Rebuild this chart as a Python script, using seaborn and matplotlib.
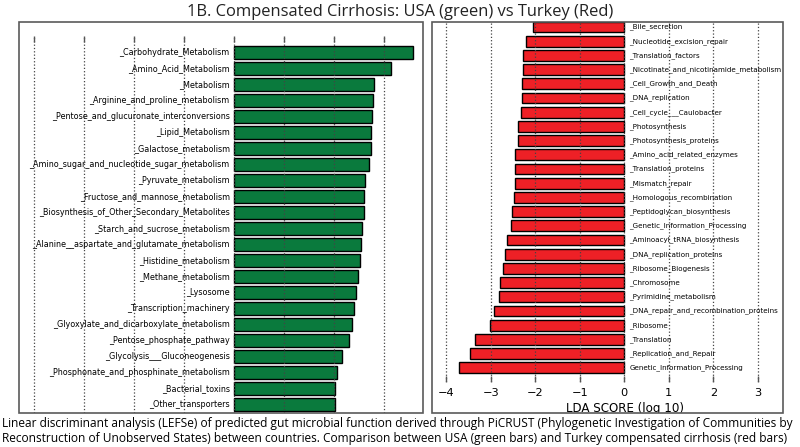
import matplotlib
matplotlib.use("Agg")
import matplotlib.pyplot as plt
from matplotlib.patches import Rectangle
import seaborn as sns
import pandas as pd

# ---- data ----
usa_functions = [
    "_Carbohydrate_Metabolism", "_Amino_Acid_Metabolism", "_Metabolism",
    "_Arginine_and_proline_metabolism", "_Pentose_and_glucuronate_interconversions",
    "_Lipid_Metabolism", "_Galactose_metabolism",
    "_Amino_sugar_and_nucleotide_sugar_metabolism", "_Pyruvate_metabolism",
    "_Fructose_and_mannose_metabolism", "_Biosynthesis_of_Other_Secondary_Metabolites",
    "_Starch_and_sucrose_metabolism", "_Alanine__aspartate_and_glutamate_metabolism",
    "_Histidine_metabolism", "_Methane_metabolism", "_Lysosome",
    "_Transcription_machinery", "_Glyoxylate_and_dicarboxylate_metabolism",
    "_Pentose_phosphate_pathway", "_Glycolysis___Gluconeogenesis",
    "_Phosphonate_and_phosphinate_metabolism", "_Bacterial_toxins", "_Other_transporters",
]
usa_lda = [3.57, 3.13, 2.79, 2.77, 2.76, 2.73, 2.73, 2.69, 2.61, 2.59, 2.59, 2.55,
           2.54, 2.51, 2.47, 2.43, 2.40, 2.35, 2.30, 2.15, 2.05, 2.01, 2.01]

turkey_functions = [
    "_Bile_secretion", "_Nucleotide_excision_repair", "_Translation_factors",
    "_Nicotinate_and_nicotinamide_metabolism", "_Cell_Growth_and_Death",
    "_DNA_replication", "_Cell_cycle___Caulobacter", "_Photosynthesis",
    "_Photosynthesis_proteins", "_Amino_acid_related_enzymes", "_Translation_proteins",
    "_Mismatch_repair", "_Homologous_recombination", "_Peptidoglycan_biosynthesis",
    "_Genetic_Information_Processing", "_Aminoacyl_tRNA_biosynthesis",
    "_DNA_replication_proteins", "_Ribosome_Biogenesis", "_Chromosome",
    "_Pyrimidine_metabolism", "_DNA_repair_and_recombination_proteins", "_Ribosome",
    "_Translation", "_Replication_and_Repair", "Genetic_Information_Processing",
]
turkey_lda = [-2.06, -2.20, -2.27, -2.28, -2.31, -2.31, -2.33, -2.38, -2.38, -2.45,
              -2.45, -2.45, -2.48, -2.52, -2.55, -2.63, -2.67, -2.72, -2.80, -2.81,
              -2.93, -3.02, -3.36, -3.46, -3.72]

x_ticks = [-4, -3, -2, -1, 0, 1, 2, 3]

title_text = "1B. Compensated Cirrhosis: USA (green) vs Turkey (Red)"
caption_lines = [
    "Linear discriminant analysis (LEFSe) of predicted gut microbial function derived through PiCRUST (Phylogenetic Investigation of Communities by",
    "Reconstruction of Unobserved States) between countries. Comparison between USA (green bars) and Turkey compensated cirrhosis (red bars)",
]

GREEN = "#0A7A3D"
RED = "#EE2026"
FRAME = "#5a5a5a"

W, H = 800, 447
fig = plt.figure(figsize=(W / 100, H / 100), dpi=100)


def rect(x0, y0, x1, y1):
    """pixel box (top-left origin) -> figure fraction [l, b, w, h]"""
    return [x0 / W, 1 - y1 / H, (x1 - x0) / W, (y1 - y0) / H]


# ---- left panel (USA) ----
axL = fig.add_axes(rect(19, 36, 423.3, 413.3), frameon=False)
dfL = pd.DataFrame({"function": usa_functions, "lda": usa_lda})
sns.barplot(data=dfL, x="lda", y="function", orient="h", color=GREEN,
            saturation=1, width=0.85, edgecolor="black", linewidth=1, ax=axL)
axL.set_xlim(-4.306, 3.78)
axL.set_ylim(22.54, -1.03)
axL.set_xticks(x_ticks)
axL.set_yticks([])
axL.set_xlabel("")
axL.set_ylabel("")
axL.xaxis.grid(True, linestyle=":", color="#444444", linewidth=0.9)
axL.set_axisbelow(False)
axL.tick_params(axis="x", direction="in", top=True, bottom=False,
                labeltop=False, labelbottom=False, length=4, width=1, color="#555555")
for i, name in enumerate(usa_functions):
    axL.text(-0.09, i, name, ha="right", va="center", fontsize=5.75,
             family="DejaVu Sans", color="black")

# ---- right panel (Turkey) ----
axR = fig.add_axes(rect(432.3, 22.3, 782.7, 381.7), frameon=False)
dfR = pd.DataFrame({"function": turkey_functions, "lda": turkey_lda})
sns.barplot(data=dfR, x="lda", y="function", orient="h", color=RED,
            saturation=1, width=0.77, edgecolor="black", linewidth=1, ax=axR)
axR.set_xlim(-4.315, 3.56)
axR.set_ylim(24.98, -0.33)
axR.set_xticks(x_ticks)
axR.set_yticks([])
axR.set_ylabel("")
axR.xaxis.grid(True, linestyle=":", color="#444444", linewidth=0.9)
axR.tick_params(axis="x", direction="in", top=False, bottom=True,
                labelbottom=True, length=4, width=1, color="#555555",
                labelsize=8.2, pad=4.7)
axR.set_xlabel("LDA SCORE (log 10)", fontsize=8.6)
axR.xaxis.set_label_coords(0.549, -0.0565)
for i, name in enumerate(turkey_functions):
    axR.text(0.11, i, name, ha="left", va="center", fontsize=5.1,
             family="DejaVu Sans", color="black")

# white mask below the panels (clips the x label like the reference)
fig.patches.append(Rectangle((0, 0), 1, (H - 413.3) / H, transform=fig.transFigure,
                             facecolor="white", edgecolor="none", zorder=1))
# panel frames
for (x0, x1) in [(19, 423.3), (432.3, 782.7)]:
    l, b, w, h = rect(x0, 22.3, x1, 413.3)
    fig.patches.append(Rectangle((l, b), w, h, transform=fig.transFigure,
                                 facecolor="none", edgecolor=FRAME, linewidth=1.2, zorder=2))

fig.text(400.5 / W, 1 - 11.5 / H, title_text, ha="center", va="center",
         fontsize=11.9, family="Open Sans", color="#222222", zorder=3)
fig.text(1.5 / W, 1 - 424 / H, caption_lines[0], ha="left", va="center",
         fontsize=8.6, family="Open Sans", color="black", zorder=3)
fig.text(1.5 / W, 1 - 438.5 / H, caption_lines[1], ha="left", va="center",
         fontsize=8.6, family="Open Sans", color="black", zorder=3)

fig.savefig("out.png", dpi=100)
